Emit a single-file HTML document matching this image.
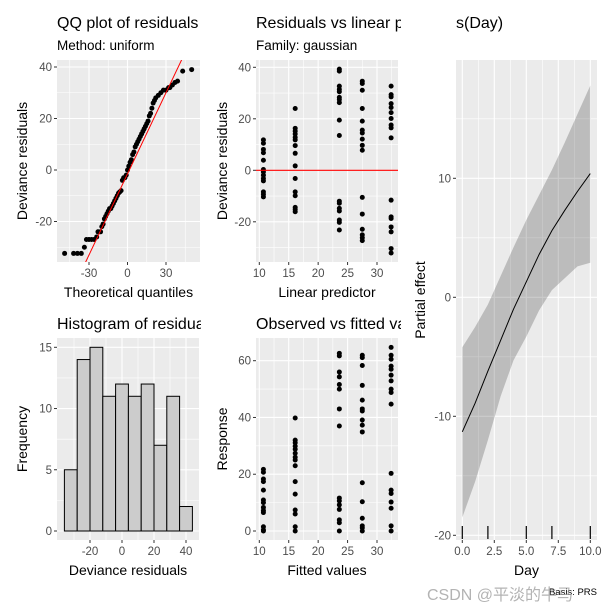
<!DOCTYPE html>
<html><head><meta charset="utf-8"><style>
html,body{margin:0;padding:0;background:#fff}
svg{display:block;font-family:"Liberation Sans","Noto Sans CJK SC",sans-serif}
</style></head><body>
<svg id="chart" width="612" height="612" viewBox="0 0 612 612">
<defs>
<clipPath id="c1"><rect x="0" y="0" width="201" height="612"/></clipPath>
<clipPath id="c2"><rect x="201" y="0" width="200" height="612"/></clipPath>
</defs>
<g id="root"></g>
</svg>
<script>
// QQ plot data
const qqTheo = [-49,-42,-39,-36,-33.6,-32,-30,-28,-26,-24,-23,-21,-20,-19,-18,-17,-16,-15,-14,-13,-12,-11,-10,-9,-8,-7,-6,-5,-4,-3,-2,-1,0,1,2,3,4,5,6,7,8,9,10,11,12,13,14,15,16,17,18,19,20,21,22,24,26,28,30,32,33,35,37,39,43,50];
const qqRes  = [-32.4,-32.4,-32.4,-32.4,-30,-27,-27,-27,-27,-26,-24,-24,-22,-21,-19,-18,-17,-16,-15,-15,-14,-13,-12,-11,-10,-9,-8.5,-8,-4,-3,-3,-2,0,1.5,3,4,6,7,9,10,11,12,13,14,15,16,17,18,19,21,22,24,26,27,28,29,30,31,31,32,32,33,34,34.5,38.4,39];
const qqLine = [-1.5, 1.05]; // intercept, slope
// Residuals vs linear predictor / observed vs fitted
const groupX = [10.7,16.1,23.6,27.5,32.4];
const resid = [
 [11.8,10.5,8.1,6.8,3.9,0.3,-0.6,-1.9,-3.2,-4.1,-8.4,-9.3,-10.3],
 [24,16.3,15.2,14.1,12.8,11.8,9.6,6.6,1.7,-3.2,-8.4,-9.9,-14.4,-15.2,-16.1],
 [39.3,38.5,32.7,31.4,30.5,28.3,27.5,26.3,19.5,13.5,-12,-12.8,-14.8,-15.8,-19.3,-20.2,-23.2],
 [34.6,33.7,31.1,24,19.1,15.6,14.5,12.1,9.7,7.8,-10.5,-17,-22.9,-25.1,-26.2,-27.3],
 [32.7,29.4,28.5,25.9,24.4,22.4,20.1,17.6,16.5,12.6,-11.6,-18.1,-18.7,-22,-23.9,-30.4,-32.1]];
const response = [
 [21.7,20.7,18.3,17.4,14.4,10.9,10,8.3,7.2,6.5,1.5,0.4,0],
 [39.8,32,31.1,29.9,28.8,27.4,26,25,23,17.4,13,7.4,6,1.5,0],
 [62.6,61.7,56,54.3,51.6,50,43,37,11.6,10.6,9.2,7.6,3.9,2.9,0],
 [61.9,61.1,58.3,51.3,46.1,43,42.3,39.1,37.3,34.9,17,10.3,4.5,1.8,1.1,0],
 [64.7,61.9,60.5,58.1,57,54.9,52.9,50,48.8,44.7,20.3,14.4,13.2,10.2,8,1.8,0]];
// Histogram
const histStart = -36, histWidth = 8;
const histCounts = [5,14,15,11,12,11,12,7,11,2];
// Smooth
const days = [0,1,2,3,4,5,6,7,8,9,10];
const fitVals = [-11.3,-8.9,-6.2,-3.6,-1,1.3,3.6,5.6,7.3,8.9,10.4];
const upperVals = [-4.2,-2.5,-0.6,1.8,4.2,6.5,8.6,10.7,13,15.4,17.8];
const lowerVals = [-18.5,-15.5,-12,-8.3,-5.3,-3.3,-1.1,0.6,1.6,2.6,2.9];
const rugDays = [0,2,5,7,10];

const NS="http://www.w3.org/2000/svg";
const root=document.getElementById('root');
function el(tag,attrs,parent,text){const e=document.createElementNS(NS,tag);for(const k in attrs)e.setAttribute(k,attrs[k]);if(text!==undefined)e.textContent=text;(parent||root).appendChild(e);return e;}
function lin(d0,d1,p0,p1){return v=>p0+(v-d0)*(p1-p0)/(d1-d0);}

function panel(o){
  const g=el('g',{});
  
  
  const bg=el('rect',{x:o.x0,y:o.y0,width:o.x1-o.x0,height:o.y1-o.y0,fill:'#ebebeb'},g);
  
  
  o.xminor.forEach(v=>el('line',{x1:o.sx(v),x2:o.sx(v),y1:o.y0,y2:o.y1,stroke:'#fff','stroke-width':0.6},g));
  o.yminor.forEach(v=>el('line',{y1:o.sy(v),y2:o.sy(v),x1:o.x0,x2:o.x1,stroke:'#fff','stroke-width':0.6},g));
  o.xbreaks.forEach(v=>el('line',{x1:o.sx(v),x2:o.sx(v),y1:o.y0,y2:o.y1,stroke:'#fff','stroke-width':1.1},g));
  o.ybreaks.forEach(v=>el('line',{y1:o.sy(v),y2:o.sy(v),x1:o.x0,x2:o.x1,stroke:'#fff','stroke-width':1.1},g));
  o.ybreaks.forEach((v,i)=>{
    el('line',{x1:o.x0-3,x2:o.x0,y1:o.sy(v),y2:o.sy(v),stroke:'#333','stroke-width':1},g);
    const t=el('text',{x:o.x0-5,y:o.sy(v)+4,'text-anchor':'end','font-size':11.5,fill:'#4d4d4d'},g,o.ylabels[i]);
    
    
  });
  o.xbreaks.forEach((v,i)=>{
    el('line',{x1:o.sx(v),x2:o.sx(v),y1:o.y1,y2:o.y1+3,stroke:'#333','stroke-width':1},g);
    const t=el('text',{x:o.sx(v),y:o.y1+15,'text-anchor':'middle','font-size':11.5,fill:'#4d4d4d'},g,o.xlabels[i]);
    
    
  });
  const xt=el('text',{x:(o.x0+o.x1)/2,y:o.y1+35,'text-anchor':'middle','font-size':14,fill:'#000'},g,o.xtitle);
  
  
  const yx=o.ytx, yy=(o.y0+o.y1)/2;
  const yt=el('text',{x:yx,y:yy,'text-anchor':'middle','font-size':14,fill:'#000',transform:`rotate(-90 ${yx} ${yy})`},g,o.ytitle);
  
  
  const tg=el('g',{'clip-path':o.clip||''},root);
  const tt=el('text',{x:o.x0,y:o.titleY,'font-size':16,fill:'#000'},tg,o.title);
  
  
  if(o.sub){const st=el('text',{x:o.x0,y:o.titleY+22,'font-size':13.5,fill:'#000'},tg,o.sub);
    
    }
  return g;
}
function dot(g,x,y){const c=el('circle',{cx:x,cy:y,r:2.5,fill:'#000'},g);
  
  }

// Panel 1: QQ
{const sx=lin(0,30,127.5,166),sy=lin(0,20,170,118.5);
 const g=panel({name:'qq-plot',x0:57,x1:200,y0:60,y1:262,sx,sy,xbreaks:[-30,0,30],xlabels:['-30','0','30'],xminor:[-45,-15,15,45],ybreaks:[-20,0,20,40],ylabels:['-20','0','20','40'],yminor:[-30,-10,10,30],xtitle:'Theoretical quantiles',ytitle:'Deviance residuals',ytx:27,title:'QQ plot of residuals',sub:'Method: uniform',titleY:28,clip:'url(#c1)'});
 const cg=el('g',{},g);
 el('clipPath',{id:'p1'},cg).appendChild(Object.assign(document.createElementNS(NS,'rect'),{}));
 cg.lastChild.firstChild.setAttribute('x',57);cg.lastChild.firstChild.setAttribute('y',60);cg.lastChild.firstChild.setAttribute('width',143);cg.lastChild.firstChild.setAttribute('height',202);
 qqTheo.forEach((t,i)=>dot(g,sx(t),sy(qqRes[i])));
 const l=el('line',{x1:sx(-60),y1:sy(qqLine[0]+qqLine[1]*-60),x2:sx(60),y2:sy(qqLine[0]+qqLine[1]*60),stroke:'#f00','stroke-width':1,'clip-path':'url(#p1)'},g);
 
 }

// Panel 2: residuals vs linear predictor
{const sx=lin(10,30,259.3,377),sy=lin(0,20,170.3,118.8);
 const g=panel({name:'residuals-vs-linear-predictor',x0:256,x1:398,y0:60,y1:262,sx,sy,xbreaks:[10,15,20,25,30],xlabels:['10','15','20','25','30'],xminor:[12.5,17.5,22.5,27.5,32.5],ybreaks:[-20,0,20,40],ylabels:['-20','0','20','40'],yminor:[-30,-10,10,30],xtitle:'Linear predictor',ytitle:'Deviance residuals',ytx:227,title:'Residuals vs linear pred',sub:'Family: gaussian',titleY:28,clip:'url(#c2)'});
 resid.forEach((arr,k)=>arr.forEach(v=>dot(g,sx(groupX[k]),sy(v))));
 const l=el('line',{x1:256,x2:398,y1:sy(0),y2:sy(0),stroke:'#f00','stroke-width':1.2},g);
 
 }

// Panel 3: histogram
{const sx=lin(0,20,122,154),sy=lin(0,15,531,347.3);
 const g=panel({name:'histogram-of-residuals',x0:57,x1:199,y0:338,y1:540,sx,sy,xbreaks:[-20,0,20,40],xlabels:['-20','0','20','40'],xminor:[-30,-10,10,30],ybreaks:[0,5,10,15],ylabels:['0','5','10','15'],yminor:[2.5,7.5,12.5],xtitle:'Deviance residuals',ytitle:'Frequency',ytx:27,title:'Histogram of residuals',titleY:329,clip:'url(#c1)'});
 histCounts.forEach((c,i)=>{const a=histStart+i*histWidth;
  const r=el('rect',{x:sx(a),y:sy(c),width:sx(a+histWidth)-sx(a),height:sy(0)-sy(c),fill:'#cccccc',stroke:'#000','stroke-width':1},g);
  
  });}

// Panel 4: observed vs fitted
{const sx=lin(10,30,259.3,377),sy=lin(0,60,531,360.7);
 const g=panel({name:'observed-vs-fitted',x0:256,x1:398,y0:338,y1:540,sx,sy,xbreaks:[10,15,20,25,30],xlabels:['10','15','20','25','30'],xminor:[12.5,17.5,22.5,27.5,32.5],ybreaks:[0,20,40,60],ylabels:['0','20','40','60'],yminor:[10,30,50],xtitle:'Fitted values',ytitle:'Response',ytx:227,title:'Observed vs fitted values',titleY:329,clip:'url(#c2)'});
 response.forEach((arr,k)=>arr.forEach(v=>dot(g,sx(groupX[k]),sy(v))));}

// Panel 5: smooth
{const sx=lin(0,10,462.3,590.3),sy=lin(0,10,297.3,178.3);
 const g=panel({name:'smooth-day-panel',x0:456,x1:597,y0:60,y1:540,sx,sy,xbreaks:[0,2.5,5,7.5,10],xlabels:['0.0','2.5','5.0','7.5','10.0'],xminor:[1.25,3.75,6.25,8.75],ybreaks:[-20,-10,0,10],ylabels:['-20','-10','0','10'],yminor:[-15,-5,5,15],xtitle:'Day',ytitle:'Partial effect',ytx:425,title:'s(Day)',titleY:28});
 let pts=days.map((d,i)=>sx(d)+','+sy(upperVals[i]));
 pts=pts.concat(days.slice().reverse().map((d,j)=>sx(d)+','+sy(lowerVals[days.length-1-j])));
 const band=el('polygon',{points:pts.join(' '),fill:'#000','fill-opacity':0.2},g);
 
 
 const fl=el('polyline',{points:days.map((d,i)=>sx(d)+','+sy(fitVals[i])).join(' '),fill:'none',stroke:'#000','stroke-width':1},g);
 
 
 rugDays.forEach(d=>{const r=el('line',{x1:sx(d),x2:sx(d),y1:526,y2:539,stroke:'#000','stroke-width':1.2},g);
  
  });
 const b=el('text',{x:597,y:595,'text-anchor':'end','font-size':9.5,fill:'#000'},g,'Basis: PRS');
 
 }

const wm=el('text',{x:427,y:600,'font-size':16,fill:'#999','fill-opacity':0.75},root,'CSDN @平淡的牛马');


</script>
</body></html>
